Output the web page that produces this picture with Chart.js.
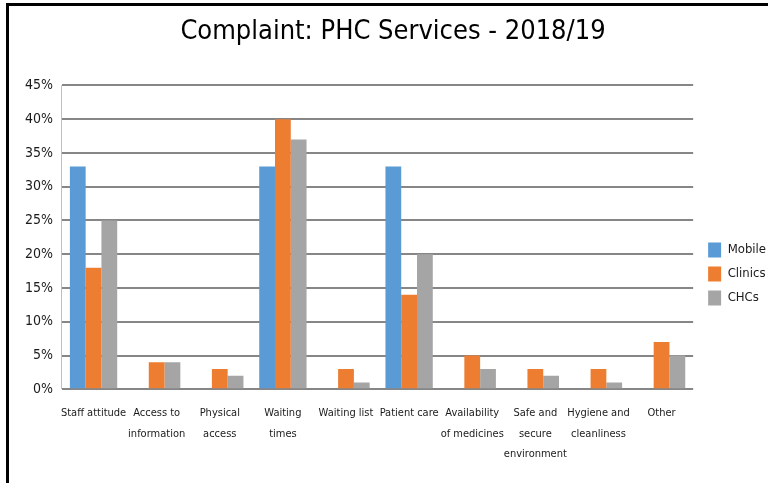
<!DOCTYPE html>
<html>
<head>
<meta charset="utf-8">
<script src="https://cdn.jsdelivr.net/npm/chart.js@4.4.1/dist/chart.umd.min.js"></script>
<style>
  html, body { margin: 0; padding: 0; background: #fff; overflow: hidden; }
  #wrap { position: relative; width: 768px; height: 483px; }
  #frame { position: absolute; left: 6px; top: 3px; width: 800px; height: 520px;
           border: 3px solid #000; pointer-events: none; }
</style>
</head>
<body>
<div id="wrap">
  <canvas id="grafico" width="768" height="483"></canvas>
  <div id="frame"></div>
</div>
<script>
/* Datos del grafico */
const categorias = [
  'Staff attitude',
  ['Access to', 'information'],
  ['Physical', 'access'],
  ['Waiting', 'times'],
  'Waiting list',
  'Patient care',
  ['Availability', 'of medicines'],
  ['Safe and', 'secure', 'environment'],
  ['Hygiene and', 'cleanliness'],
  'Other'
];
const mobile  = [33, 0, 0, 33, 0, 33, 0, 0, 0, 0];
const clinics = [18, 4, 3, 40, 3, 14, 5, 3, 3, 7];
const chcs    = [25, 4, 2, 37, 1, 20, 3, 2, 1, 5];
const yTicks  = [0, 5, 10, 15, 20, 25, 30, 35, 40, 45];

const fuente = "'DejaVu Sans Condensed', 'Liberation Sans Narrow', Roboto, sans-serif";

/* Mueve la leyenda un poco hacia abajo y a la derecha, como en el original */
const moverLeyenda = {
  id: 'moverLeyenda',
  afterLayout(chart) {
    const lg = chart.legend;
    if (!lg) return;
    const dx = 6, dy = 35;
    lg.left += dx; lg.right += dx;
    lg.top += dy; lg.bottom += dy;
  }
};

const config = {
  type: 'bar',
  data: {
    labels: categorias,
    datasets: [
      { label: 'Mobile',  data: mobile,  backgroundColor: '#5b9bd5' },
      { label: 'Clinics', data: clinics, backgroundColor: '#ed7d31' },
      { label: 'CHCs',    data: chcs,    backgroundColor: '#a5a5a5' }
    ]
  },
  options: {
    responsive: false,
    animation: false,
    layout: { padding: { left: 16, right: -2, top: 0, bottom: 5 } },
    datasets: { bar: { categoryPercentage: 0.75, barPercentage: 1.0 } },
    plugins: {
      title: {
        display: true,
        text: 'Complaint: PHC Services - 2018/19',
        color: '#000',
        font: { family: fuente, size: 27, weight: 'normal', lineHeight: 1.2 },
        padding: { top: 16, bottom: 37 }
      },
      legend: {
        position: 'right',
        align: 'center',
        labels: {
          color: '#1a1a1a',
          font: { family: fuente, size: 13 },
          boxWidth: 13,
          boxHeight: 15,
          padding: 9
        }
      },
      tooltip: { enabled: false }
    },
    scales: {
      x: {
        grid: {
          offset: true,
          drawTicks: false,
          color: (ctx) => (ctx.index === 0 || ctx.index === categorias.length) ? '#bfbfbf' : 'rgba(0,0,0,0)',
          lineWidth: 1
        },
        border: { display: false },
        ticks: {
          color: '#1a1a1a',
          font: { family: fuente, size: 11, lineHeight: 1.9 },
          padding: 13,
          autoSkip: false,
          maxRotation: 0,
          minRotation: 0
        }
      },
      y: {
        min: 0,
        max: 45,
        afterBuildTicks: (axis) => { axis.ticks = yTicks.map(v => ({ value: v })); },
        grid: { drawTicks: false, color: '#868686', lineWidth: 2 },
        border: { display: false },
        ticks: {
          color: '#1a1a1a',
          font: { family: fuente, size: 14 },
          padding: 9,
          callback: (v) => v + '%'
        }
      }
    }
  },
  plugins: [moverLeyenda]
};

const ctx = document.getElementById('grafico').getContext('2d');
new Chart(ctx, config);
</script>
</body>
</html>
